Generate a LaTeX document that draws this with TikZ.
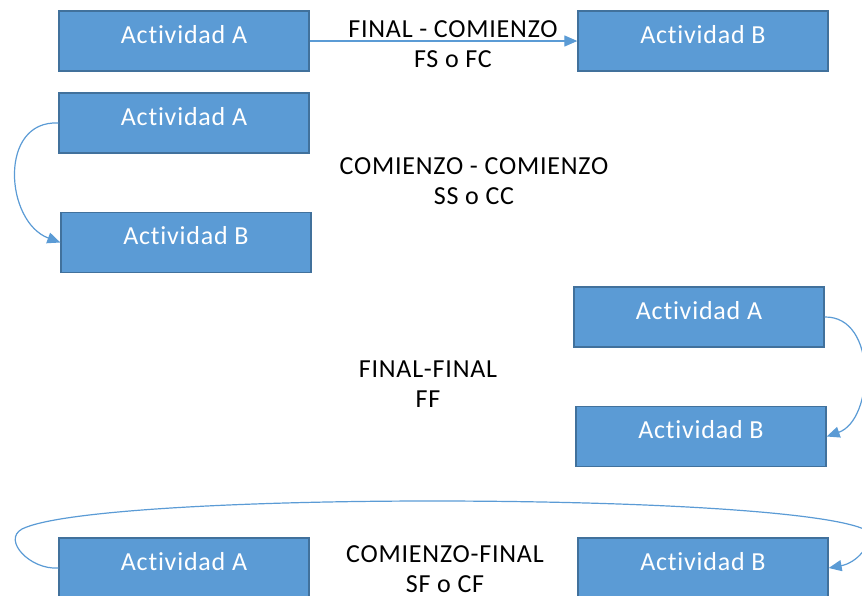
\documentclass[tikz,border=0pt]{standalone}
\usepackage{fontspec}
\setmainfont{Carlito}[LetterSpace=3,Ligatures=NoCommon]
\usetikzlibrary{arrows.meta}
\definecolor{boxfill}{HTML}{5B9BD5}
\definecolor{boxline}{HTML}{41719C}
\definecolor{conncol}{HTML}{5B9BD5}
\tikzset{
  actbox/.style={draw=boxline, fill=boxfill, line width=1.3pt, minimum width=250pt, minimum height=60pt,
    inner sep=0pt, text=white, text height=20pt, text depth=16pt, font=\fontsize{26}{31}\selectfont},
  rellabel/.style={align=center, inner sep=0pt, text=black, font=\fontsize{26}{30}\selectfont},
  conn/.style={draw=conncol, line width=1.2pt, -{Triangle[length=13pt,width=11pt]}}
}
\begin{document}
\begin{tikzpicture}[x=1pt,y=-1pt]
\useasboundingbox (0,0) rectangle (862,595);
\node[actbox] (a1) at (184,41) {Actividad A};
\node[actbox] (b1) at (703,41) {Actividad B};
\node[actbox] (a2) at (184,123) {Actividad A};
\node[actbox] (b2) at (186,242.5) {Actividad B};
\node[actbox] (a3) at (699,317) {Actividad A};
\node[actbox] (b3) at (701,436.5) {Actividad B};
\node[actbox] (a4) at (184,568) {Actividad A};
\node[actbox] (b4) at (703,568) {Actividad B};

\node[rellabel] (l1) at (453,44) {FINAL - COMIENZO\\FS o FC};
\node[rellabel] (l2) at (474,181) {COMIENZO - COMIENZO\\SS o CC};
\node[rellabel] (l3) at (428,384) {FINAL-FINAL\\FF};
\node[rellabel] (l4) at (445,569) {COMIENZO-FINAL\\SF o CF};

\draw[conn] (a1.east) -- (b1.west);
\draw[conn] (a2.west) .. controls (-2,120) and (5,222) .. (b2.west);
\draw[conn] (a3.east) .. controls (878,316) and (874,420) .. (b3.east);
\draw[conn] (a4.west) .. controls (30,570) and (2,540) .. (22,529)
  .. controls (60,510) and (250,501) .. (431,501)
  .. controls (650,501) and (830,512) .. (866,530)
  .. controls (874,545) and (856,563) .. (b4.east);
\end{tikzpicture}
\end{document}
